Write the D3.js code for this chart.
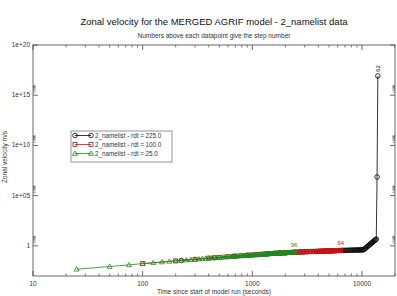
<!DOCTYPE html>
<html><head><meta charset="utf-8">
<script src="https://cdn.jsdelivr.net/npm/d3@7"></script>
<style>
body{margin:0;background:#fff;}
text{font-family:"Liberation Sans",Arial,sans-serif;}
</style></head>
<body><svg id="c" width="397" height="296"></svg>
<script>
const titleText = "Zonal velocity for the MERGED AGRIF model - 2_namelist data";
const subtitleText = "Numbers above each datapoint give the step number";
const xLabelText = "Time since start of model run (seconds)";
const yLabelText = "Zonal velocity m/s";
const xTickValues = [10, 100, 1000, 10000];
const xTickLabels = ["10", "100", "1000", "10000"];
const yTickValues = [1, 1e5, 1e10, 1e15, 1e20];
const yTickLabels = ["1", "1e+05", "1e+10", "1e+15", "1e+20"];
const seriesNames = ["2_namelist - rdt = 225.0", "2_namelist - rdt = 100.0", "2_namelist - rdt = 25.0"];
const seriesRdt = [225, 100, 25];
const seriesColors = ["#000000", "#cc1111", "#1a8c1a"];

// rdt = 225 : step 1..62
const v225 = [0.0355,0.0656,0.091,0.114,0.135,0.157,0.178,0.1925,0.207,0.221,
0.233,0.243,0.253,0.263,0.27,0.276,0.283,0.289,0.295,0.302,
0.308,0.314,0.319,0.325,0.331,0.336,0.342,0.348,0.352,0.355,
0.358,0.361,0.364,0.367,0.370,0.374,0.377,0.380,0.383,0.386,
0.389,0.392,0.395,0.399,0.40,0.41,0.50,0.61,0.74,0.89,
1.07,1.28,1.52,1.81,2.14,2.53,2.99,3.51,4.1,4.8,
7.2e6,8.3e16];
// rdt = 100 : step 1..64
const v100 = [0.017,0.032,0.046,0.06,0.071,0.083,0.094,0.105,0.114,0.124,
0.133,0.143,0.152,0.161,0.171,0.18,0.186,0.193,0.199,0.205,
0.211,0.218,0.224,0.23,0.234,0.239,0.243,0.248,0.252,0.256,
0.261,0.265,0.268,0.271,0.273,0.276,0.279,0.282,0.285,0.287,
0.290,0.293,0.296,0.299,0.301,0.304,0.307,0.31,0.313,0.315,
0.318,0.32,0.323,0.325,0.328,0.33,0.333,0.335,0.338,0.34,
0.343,0.345,0.348,0.35];
// rdt = 25 : step 1..96
const v25 = [0.0047,0.0088,0.0129,0.017,0.0208,0.0245,0.0283,0.032,0.0355,0.039,
0.0425,0.046,0.0495,0.053,0.0565,0.06,0.0628,0.0656,0.0684,0.0712,
0.074,0.0768,0.0796,0.0824,0.0852,0.088,0.0908,0.0936,0.0964,0.0992,
0.102,0.105,0.107,0.110,0.112,0.114,0.117,0.119,0.121,0.124,
0.126,0.128,0.131,0.133,0.135,0.138,0.140,0.142,0.145,0.147,
0.149,0.152,0.154,0.156,0.159,0.161,0.163,0.166,0.168,0.170,
0.173,0.175,0.177,0.180,0.182,0.183,0.185,0.186,0.188,0.189,
0.191,0.193,0.194,0.196,0.197,0.199,0.200,0.202,0.203,0.205,
0.207,0.208,0.210,0.211,0.213,0.214,0.216,0.218,0.219,0.221,
0.222,0.224,0.225,0.227,0.228,0.230];
const seriesValues = [v225, v100, v25];

const svg = d3.select("#c");
const L = 33, R = 395, T = 45, B = 276;
const x = d3.scaleLog().domain([10, 20000]).range([L, R]);
const y = d3.scaleLog().domain([1e-3, 1e20]).range([B, T]);
const axisCol = "#444", textCol = "#333";

// title
svg.append("text").attr("x", 214).attr("y", 25).attr("text-anchor", "middle")
  .attr("font-size", 9.5).attr("fill", "#111").text(titleText);
svg.append("text").attr("x", 214).attr("y", 37.5).attr("text-anchor", "middle")
  .attr("font-size", 6.5).attr("fill", textCol).text(subtitleText);

// frame
svg.append("rect").attr("x", L).attr("y", T).attr("width", R - L).attr("height", B - T)
  .attr("fill", "none").attr("stroke", axisCol).attr("stroke-width", 0.8);

// x ticks (bottom + top)
const xMinor = [];
[10, 100, 1000, 10000].forEach(d => { for (let k = 2; k <= 9; k++) if (d * k <= 20000) xMinor.push(d * k); });
const gx = svg.append("g");
xTickValues.forEach(v => {
  gx.append("line").attr("x1", x(v)).attr("x2", x(v)).attr("y1", B).attr("y2", B - 5).attr("stroke", axisCol).attr("stroke-width", 0.8);
  gx.append("line").attr("x1", x(v)).attr("x2", x(v)).attr("y1", T).attr("y2", T + 5).attr("stroke", axisCol).attr("stroke-width", 0.8);
});
xMinor.forEach(v => {
  gx.append("line").attr("x1", x(v)).attr("x2", x(v)).attr("y1", B).attr("y2", B - 2.5).attr("stroke", axisCol).attr("stroke-width", 0.7);
  gx.append("line").attr("x1", x(v)).attr("x2", x(v)).attr("y1", T).attr("y2", T + 2.5).attr("stroke", axisCol).attr("stroke-width", 0.7);
});
xTickValues.forEach((v, i) => {
  gx.append("text").attr("x", x(v)).attr("y", 286).attr("text-anchor", "middle")
    .attr("font-size", 6.5).attr("fill", textCol).text(xTickLabels[i]);
});
svg.append("text").attr("x", 214).attr("y", 294).attr("text-anchor", "middle")
  .attr("font-size", 6.5).attr("fill", textCol).text(xLabelText);

// y ticks (left + right)
const gy = svg.append("g");
yTickValues.forEach((v, i) => {
  gy.append("line").attr("x1", L).attr("x2", L + 5).attr("y1", y(v)).attr("y2", y(v)).attr("stroke", axisCol).attr("stroke-width", 0.8);
  gy.append("line").attr("x1", R).attr("x2", R - 5).attr("y1", y(v)).attr("y2", y(v)).attr("stroke", axisCol).attr("stroke-width", 0.8);
  if (v < 1e20) {
    for (let k = 2; k <= 9; k++) {
      const yy = y(v * k);
      gy.append("line").attr("x1", L).attr("x2", L + 2.5).attr("y1", yy).attr("y2", yy).attr("stroke", axisCol).attr("stroke-width", 0.5);
      gy.append("line").attr("x1", R).attr("x2", R - 2.5).attr("y1", yy).attr("y2", yy).attr("stroke", axisCol).attr("stroke-width", 0.5);
    }
  }
  gy.append("text").attr("x", 30).attr("y", y(v) + 2).attr("text-anchor", "end")
    .attr("font-size", 6.5).attr("fill", textCol).text(yTickLabels[i]);
});
svg.append("text").attr("transform", "translate(7,157) rotate(-90)").attr("text-anchor", "middle")
  .attr("font-size", 6.5).attr("fill", textCol).text(yLabelText);

// marker drawer
function marker(g, type, cx, cy, col) {
  if (type === 0) g.append("circle").attr("cx", cx).attr("cy", cy).attr("r", 2.3).attr("fill", "none").attr("stroke", col).attr("stroke-width", 0.8);
  else if (type === 1) g.append("rect").attr("x", cx - 2).attr("y", cy - 2).attr("width", 4).attr("height", 4).attr("fill", "none").attr("stroke", col).attr("stroke-width", 0.8);
  else g.append("path").attr("d", `M${cx},${cy - 2.5}L${cx + 2.5},${cy + 1.8}L${cx - 2.5},${cy + 1.8}Z`).attr("fill", "none").attr("stroke", col).attr("stroke-width", 0.8);
}

const line = d3.line().x(d => x(d.t)).y(d => y(d.v));
seriesValues.forEach((vals, s) => {
  const pts = vals.map((v, i) => ({ t: seriesRdt[s] * (i + 1), v: v, step: i + 1 }));
  const g = svg.append("g");
  g.append("path").attr("d", line(pts)).attr("fill", "none").attr("stroke", seriesColors[s]).attr("stroke-width", 0.8);
  pts.forEach(p => marker(g, s, x(p.t), y(p.v), seriesColors[s]));
  const last = pts[pts.length - 1];
  if (s === 0) {
    g.append("text").attr("transform", `translate(${x(last.t) + 2},${y(last.v) - 4}) rotate(-90)`)
      .attr("font-size", 6).attr("fill", seriesColors[s]).text(last.step);
  } else {
    g.append("text").attr("x", x(last.t)).attr("y", y(last.v) - 5).attr("text-anchor", "middle")
      .attr("font-size", 6).attr("fill", seriesColors[s]).text(last.step);
  }
});

// legend
const lg = svg.append("g");
lg.append("rect").attr("x", 71).attr("y", 131).attr("width", 101).attr("height", 31)
  .attr("fill", "#fff").attr("stroke", "#666").attr("stroke-width", 0.7);
seriesNames.forEach((n, i) => {
  const yy = 135.5 + i * 9;
  lg.append("line").attr("x1", 75).attr("x2", 91).attr("y1", yy).attr("y2", yy).attr("stroke", seriesColors[i]).attr("stroke-width", 0.8);
  marker(lg, i, 75, yy, seriesColors[i]);
  marker(lg, i, 91, yy, seriesColors[i]);
  lg.append("text").attr("x", 95).attr("y", yy + 2.2).attr("font-size", 6.3).attr("fill", textCol).text(n);
});
</script></body></html>
